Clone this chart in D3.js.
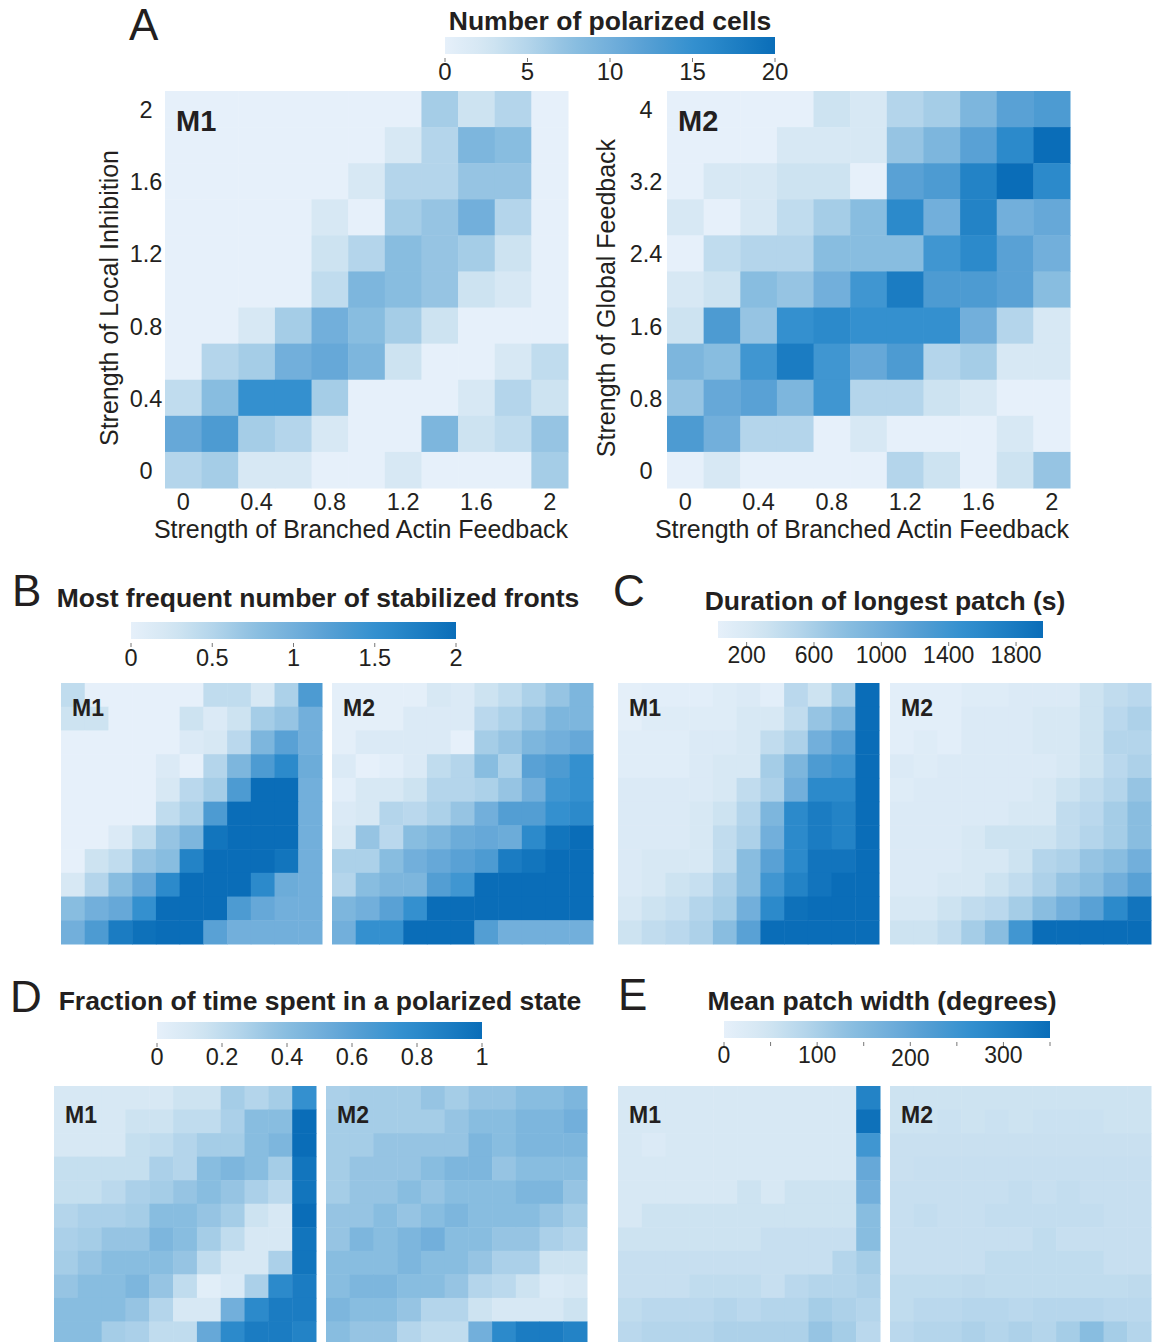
<!DOCTYPE html>
<html>
<head>
<meta charset="utf-8">
<script src="https://cdn.jsdelivr.net/npm/d3@7"></script>
<style>
  body { margin: 0; background: #fff; }
  text { font-family: "Liberation Sans", Arial, sans-serif; fill: #231f20; }
</style>
</head>
<body>
<div class="fig"></div>
<script>
// axis tick labels (panel A)
const xTickLabels = ["0", "0.4", "0.8", "1.2", "1.6", "2"]
const yTicksM1 = ["0", "0.4", "0.8", "1.2", "1.6", "2"]
const yTicksM2 = ["0", "0.8", "1.6", "2.4", "3.2", "4"]

// colorbar ticks
const ticksA = [0, 5, 10, 15, 20]
const ticksB = [0, 0.5, 1, 1.5, 2]
const ticksC = [200, 600, 1000, 1400, 1800]
const ticksD = [0, 0.2, 0.4, 0.6, 0.8, 1]
const ticksE = [0, 100, 200, 300]
const minorE = [50, 150, 250, 350]

// rows listed top (highest y) to bottom, columns left to right
const polarM1 = [
  [0,0,0,0,0,0,0,6,3,5,0],
  [0,0,0,0,0,0,2,5,9,8,0],
  [0,0,0,0,0,2,5,5,7,7,0],
  [0,0,0,0,2,0,6,7,10,5,0],
  [0,0,0,0,3,5,8,7,6,3,0],
  [0,0,0,0,4,9,8,7,3,2,0],
  [0,0,2,6,10,8,6,3,0,0,0],
  [0,5,6,10,11,9,3,0,0,2,4],
  [4,8,15,15,6,0,0,0,2,5,3],
  [11,13,6,5,2,0,0,9,3,4,7],
  [5,6,2,2,0,0,2,0,0,0,6]
]
const polarM2 = [
  [0,0,0,0,3,2,5,6,9,12,13],
  [0,0,0,2,2,2,7,9,12,16,20],
  [0,2,2,3,3,0,12,13,17,20,16],
  [2,0,2,4,6,8,16,10,17,10,11],
  [0,4,5,5,8,8,8,14,16,12,10],
  [2,3,8,7,10,14,18,13,13,12,8],
  [3,13,7,15,16,15,15,15,10,5,2],
  [9,8,14,18,14,11,13,5,6,2,2],
  [7,11,12,9,14,5,5,3,2,0,0],
  [13,10,5,5,0,2,0,0,0,2,0],
  [0,2,0,0,0,0,5,3,0,3,7]
]
const frontsM1 = [
  [0.4,0,0,0,0,0,0.4,0.4,0.2,0.55,1.3],
  [0.3,0.3,0,0,0,0.3,0.15,0.3,0.6,0.7,1.0],
  [0,0,0,0,0,0.15,0.2,0.45,0.9,1.2,1.0],
  [0,0,0,0,0.15,0,0.5,0.9,1.3,1.6,1.05],
  [0,0,0,0,0.2,0.45,0.6,1.3,2,2,1.0],
  [0,0,0,0,0.4,0.55,1.3,2,2,2,1.0],
  [0,0,0.15,0.4,0.7,0.9,1.9,2,2,2,1.0],
  [0,0.3,0.4,0.7,0.8,1.7,2,2,2,1.9,1.0],
  [0.2,0.5,0.8,1.1,1.6,2,2,2,1.6,1.05,1.0],
  [0.8,1.0,1.1,1.5,2,2,2,1.3,1.1,1.0,1.0],
  [1.0,1.3,1.8,1.95,2,2,1.2,1.0,1.0,1.0,1.0]
]
const frontsM2 = [
  [0.03,0.03,0.03,0.03,0.2,0.15,0.3,0.4,0.55,0.7,0.9],
  [0.03,0.03,0.03,0.15,0.15,0.15,0.45,0.55,0.7,0.9,0.9],
  [0.03,0.15,0.15,0.15,0.15,0,0.6,0.7,0.9,1.0,1.1],
  [0.15,0,0.05,0.15,0.4,0.5,0.8,0.55,1.2,1.3,1.5],
  [0.05,0.2,0.2,0.3,0.5,0.5,0.55,0.7,1.0,1.4,1.5],
  [0.15,0.2,0.5,0.45,0.55,0.7,1.0,1.25,1.25,1.5,1.6],
  [0.2,0.7,0.45,0.8,0.9,1.05,1.1,1.05,1.6,1.9,2],
  [0.55,0.55,0.8,1.0,1.1,1.2,1.3,1.8,1.9,2,2],
  [0.5,0.8,0.9,0.9,1.25,1.4,2,2,2,2,2],
  [0.9,1.0,1.2,1.5,2,2,2,2,2,2,2],
  [1.0,1.5,1.5,2,2,2,1.25,1.0,1.0,1.0,1.0]
]
const durationM1 = [
  [60,80,80,80,130,175,80,465,320,610,1960],
  [60,130,130,130,130,225,225,415,705,900,1960],
  [110,110,110,175,175,225,415,560,995,1190,1960],
  [110,110,110,175,225,225,610,900,1285,1380,1960],
  [175,175,175,175,225,415,560,995,1575,1575,1960],
  [175,175,175,225,320,510,900,1575,1765,1670,1960],
  [175,175,175,225,415,560,995,1575,1765,1670,1960],
  [175,225,225,225,415,800,1190,1575,1865,1865,1960],
  [175,225,320,370,560,800,1380,1670,1865,1960,1960],
  [225,320,370,510,610,995,1575,1910,1960,1960,1960],
  [320,415,465,560,800,1190,1960,1960,1960,1960,1960]
]
const durationM2 = [
  [80,80,80,130,130,175,175,175,320,415,465],
  [80,80,80,175,175,175,225,225,320,465,560],
  [80,130,80,175,175,175,225,225,320,510,510],
  [175,130,175,175,175,175,175,225,320,465,560],
  [130,175,175,175,175,175,225,320,415,510,705],
  [175,175,175,175,175,225,225,415,465,610,800],
  [175,175,175,225,320,320,320,415,510,610,800],
  [175,175,175,225,225,320,510,560,705,800,995],
  [175,175,225,225,320,415,560,705,800,995,1190],
  [225,225,320,415,465,610,800,995,1190,1575,1865],
  [320,320,415,610,800,1380,1960,1960,1960,1960,1960]
]
const fractionM1 = [
  [0.1,0.1,0.1,0.1,0.1,0.15,0.15,0.3,0.25,0.3,0.75],
  [0.1,0.1,0.1,0.15,0.15,0.2,0.2,0.28,0.4,0.4,1],
  [0.1,0.1,0.1,0.18,0.2,0.25,0.3,0.3,0.4,0.45,1],
  [0.18,0.18,0.18,0.18,0.28,0.25,0.4,0.45,0.4,0.3,0.95],
  [0.18,0.18,0.22,0.28,0.3,0.35,0.4,0.35,0.28,0.22,0.95],
  [0.25,0.28,0.28,0.3,0.4,0.4,0.35,0.3,0.15,0.1,1],
  [0.28,0.3,0.35,0.35,0.45,0.4,0.3,0.2,0.1,0.1,0.95],
  [0.3,0.35,0.4,0.4,0.4,0.35,0.2,0.1,0.1,0.28,0.95],
  [0.35,0.4,0.4,0.45,0.35,0.2,0.03,0.08,0.28,0.8,0.9],
  [0.4,0.4,0.4,0.35,0.25,0.1,0.1,0.5,0.8,0.9,0.9],
  [0.4,0.4,0.3,0.28,0.2,0.2,0.55,0.8,0.9,0.9,0.85]
]
const fractionM2 = [
  [0.28,0.3,0.3,0.3,0.35,0.3,0.35,0.35,0.4,0.4,0.45],
  [0.3,0.3,0.3,0.3,0.3,0.35,0.4,0.4,0.45,0.45,0.5],
  [0.3,0.3,0.35,0.35,0.35,0.35,0.45,0.4,0.45,0.45,0.45],
  [0.3,0.35,0.35,0.35,0.4,0.45,0.45,0.35,0.4,0.4,0.4],
  [0.3,0.35,0.35,0.4,0.35,0.4,0.4,0.4,0.45,0.45,0.35],
  [0.35,0.35,0.4,0.35,0.4,0.45,0.4,0.4,0.4,0.35,0.3],
  [0.35,0.45,0.4,0.45,0.5,0.4,0.4,0.35,0.35,0.28,0.25],
  [0.4,0.4,0.4,0.45,0.4,0.4,0.35,0.28,0.28,0.15,0.15],
  [0.4,0.45,0.45,0.4,0.4,0.35,0.25,0.22,0.15,0.08,0.1],
  [0.45,0.4,0.4,0.35,0.25,0.25,0.15,0.1,0.1,0.1,0.15],
  [0.4,0.35,0.35,0.25,0.2,0.2,0.5,0.8,0.9,0.9,0.85]
]
const widthM1 = [
  [35,35,35,35,35,35,35,35,35,35,298],
  [35,35,35,35,35,35,35,35,35,35,341],
  [35,26,35,35,35,35,35,35,35,35,245],
  [35,35,35,35,35,35,35,35,35,35,192],
  [35,35,35,35,35,52,35,52,52,52,175],
  [35,52,52,52,52,52,52,52,52,52,140],
  [52,52,52,52,52,52,61,61,61,61,140],
  [61,61,61,61,61,61,61,61,61,88,105],
  [61,61,61,70,70,70,61,79,88,88,96],
  [70,79,79,79,88,79,88,88,105,96,88],
  [79,88,88,88,96,96,96,96,122,105,79]
]
const widthM2 = [
  [52,52,52,52,52,52,52,52,52,52,52],
  [52,52,56,52,56,52,56,56,56,52,52],
  [58,58,58,58,58,58,58,58,58,58,58],
  [58,61,61,61,61,61,61,61,61,61,61],
  [61,61,61,61,61,66,61,66,61,61,61],
  [61,66,61,61,66,66,66,66,66,61,61],
  [61,61,61,61,61,61,70,61,61,61,61],
  [61,61,61,61,70,70,70,70,70,61,61],
  [70,70,70,74,70,70,70,70,70,70,74],
  [70,79,79,84,84,79,84,84,84,79,79],
  [79,88,88,96,88,96,88,105,140,105,88]
]

const palette = ["#e6f0fa", "#d3e6f3", "#b4d5eb", "#8ec0e1", "#72afdb", "#539ed3", "#3490cf", "#1f80c4", "#0a6db8"]
const ramp = d3.piecewise(d3.interpolateRgb, palette)

const svg = d3.select(".fig").append("svg")
  .attr("width", 1152)
  .attr("height", 1342)

const defs = svg.append("defs")
defs.append("linearGradient").attr("id", "ramp")
  .selectAll("stop")
  .data(d3.range(0, 1.0001, 0.05))
  .enter().append("stop")
  .attr("offset", d => d)
  .attr("stop-color", d => ramp(d))

function heatmap(data, color, x0, y0, w, h, label, labelSize, labelDy) {
  const idx = d3.range(11)
  const x = d3.scaleBand().domain(idx).range([x0, x0 + w])
  const y = d3.scaleBand().domain(idx).range([y0, y0 + h])
  const g = svg.append("g")
  const cells = data.flatMap((row, r) => row.map((v, c) => ({r, c, v})))
  g.selectAll("rect")
    .data(cells)
    .enter().append("rect")
    .attr("x", d => x(d.c))
    .attr("y", d => y(d.r))
    .attr("width", x.bandwidth() + 0.5)
    .attr("height", y.bandwidth() + 0.5)
    .attr("fill", d => color(d.v))
  g.append("text")
    .attr("x", x0 + 11)
    .attr("y", y0 + labelDy)
    .attr("font-size", labelSize)
    .attr("font-weight", "bold")
    .text(label)
  return {x, y}
}

function colorbar(x0, y0, w, domain, ticks, labelY, size, minor, dropped) {
  const s = d3.scaleLinear().domain(domain).range([x0, x0 + w])
  svg.append("rect")
    .attr("x", x0).attr("y", y0)
    .attr("width", w).attr("height", 17)
    .attr("fill", "url(#ramp)")
  const all = ticks.concat(minor || [])
  svg.append("g").selectAll("line")
    .data(all)
    .enter().append("line")
    .attr("x1", d => s(d)).attr("x2", d => s(d))
    .attr("y1", y0 + 21).attr("y2", y0 + 25)
    .attr("stroke", "#777").attr("stroke-width", 1)
  svg.append("g").selectAll("text")
    .data(ticks)
    .enter().append("text")
    .attr("x", d => s(d))
    .attr("y", d => d === dropped ? labelY + 3 : labelY)
    .attr("text-anchor", "middle")
    .attr("font-size", size)
    .text(d => d)
}

function title(txt, x, y) {
  svg.append("text")
    .attr("x", x).attr("y", y)
    .attr("text-anchor", "middle")
    .attr("font-size", 26.5)
    .attr("font-weight", "bold")
    .text(txt)
}

function letter(txt, x, y) {
  svg.append("text")
    .attr("x", x).attr("y", y)
    .attr("font-size", 44)
    .text(txt)
}

// ---------- panel A
letter("A", 129, 40)
title("Number of polarized cells", 610, 30)
colorbar(445, 37, 330, [0, 20], ticksA, 80, 24)

const colA = d3.scaleSequential(ramp).domain([0, 20])
const tickCols = [0, 2, 4, 6, 8, 10]
const tickRows = [10, 8, 6, 4, 2, 0]

function axesA(sc, yTicks, yLabelX, yTitleX, yTitle, xTitleX) {
  svg.append("g").selectAll("text")
    .data(xTickLabels)
    .enter().append("text")
    .attr("x", (d, i) => sc.x(tickCols[i]) + sc.x.bandwidth() / 2)
    .attr("y", 510)
    .attr("text-anchor", "middle")
    .attr("font-size", 23.5)
    .text(d => d)
  svg.append("g").selectAll("text")
    .data(yTicks)
    .enter().append("text")
    .attr("x", yLabelX)
    .attr("y", (d, i) => sc.y(tickRows[i]) + sc.y.bandwidth() / 2 + 9)
    .attr("text-anchor", "middle")
    .attr("font-size", 23.5)
    .text(d => d)
  svg.append("text")
    .attr("transform", `translate(${yTitleX}, 298) rotate(-90)`)
    .attr("text-anchor", "middle")
    .attr("font-size", 25)
    .text(yTitle)
  svg.append("text")
    .attr("x", xTitleX).attr("y", 538)
    .attr("text-anchor", "middle")
    .attr("font-size", 25)
    .text("Strength of Branched Actin Feedback")
}

const a1 = heatmap(polarM1, colA, 165, 91, 403, 397, "M1", 29, 40)
axesA(a1, yTicksM1, 146, 118, "Strength of Local Inhibition", 361)
const a2 = heatmap(polarM2, colA, 667, 91, 403, 397, "M2", 29, 40)
axesA(a2, yTicksM2, 646, 615, "Strength of Global Feedback", 862)

// ---------- panel B
letter("B", 12, 606)
title("Most frequent number of stabilized fronts", 318, 607)
colorbar(131, 622, 325, [0, 2], ticksB, 666, 23.5)
const colB = d3.scaleSequential(ramp).domain([0, 2])
heatmap(frontsM1, colB, 61, 683, 261, 261, "M1", 23, 33)
heatmap(frontsM2, colB, 332, 683, 261, 261, "M2", 23, 33)

// ---------- panel C
letter("C", 613, 606)
title("Duration of longest patch (s)", 885, 610)
colorbar(718, 621, 325, [30, 1960], ticksC, 663, 23)
const colC = d3.scaleSequential(ramp).domain([30, 1960])
heatmap(durationM1, colC, 618, 683, 261, 261, "M1", 23, 33)
heatmap(durationM2, colC, 890, 683, 261, 261, "M2", 23, 33)

// ---------- panel D
letter("D", 10, 1012)
title("Fraction of time spent in a polarized state", 320, 1010)
colorbar(157, 1022, 325, [0, 1], ticksD, 1065, 23.5)
const colD = d3.scaleSequential(ramp).domain([0, 1])
heatmap(fractionM1, colD, 54, 1086, 262, 259, "M1", 23, 37)
heatmap(fractionM2, colD, 326, 1086, 261, 259, "M2", 23, 37)

// ---------- panel E
letter("E", 618, 1010)
title("Mean patch width (degrees)", 882, 1010)
colorbar(724, 1021, 326, [0, 350], ticksE, 1063, 23, minorE, 200)
const colE = d3.scaleSequential(ramp).domain([0, 350])
heatmap(widthM1, colE, 618, 1086, 262, 259, "M1", 23, 37)
heatmap(widthM2, colE, 890, 1086, 261, 259, "M2", 23, 37)
</script>
</body>
</html>
